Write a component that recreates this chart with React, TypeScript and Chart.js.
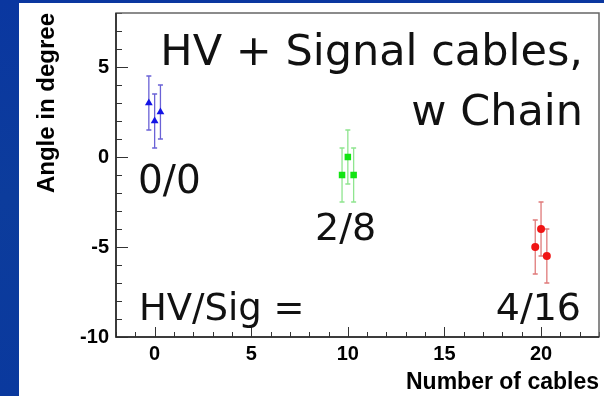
import { useEffect, useRef } from "react";
import { Chart, registerables } from "chart.js";

Chart.register(...registerables);

// ---- data ----
const xTickValues = [0, 5, 10, 15, 20];
const yTickValues = [-10, -5, 0, 5];

const blueX = [-0.3, 0, 0.3];
const blueY = [3, 2, 2.5];
const blueErr = [1.5, 1.5, 1.5];

const greenX = [9.7, 10, 10.3];
const greenY = [-1, 0, -1];
const greenErr = [1.5, 1.5, 1.5];

const redX = [19.7, 20, 20.3];
const redY = [-5, -4, -5.5];
const redErr = [1.5, 1.5, 1.5];

const noteTexts = ["HV + Signal cables,", "w Chain", "0/0", "2/8", "HV/Sig =", "4/16"];
const noteX = [22.17, 22.17, -0.86, 8.3, -0.81, 22.07];
const noteY = [5.11, 1.78, -2.0, -4.61, -9.06, -9.06];
const noteAlign = ["right", "right", "left", "left", "left", "right"];
const noteSize = [43, 43, 39, 38, 37, 38];

const TICK_FONT = "'Liberation Sans', Arial, sans-serif";
const NOTE_FONT = "'DejaVu Sans', sans-serif";

const pts = (xs: number[], ys: number[]) => xs.map((x, i) => ({ x, y: ys[i] }));

const backgroundPlugin = {
  id: "bg",
  beforeDraw(chart: any) {
    const { ctx, width, height } = chart;
    ctx.save();
    const g = ctx.createLinearGradient(0, 0, 0, height);
    g.addColorStop(0, "#0a37a0");
    g.addColorStop(0.5, "#0c3c9c");
    g.addColorStop(1, "#0a399e");
    ctx.fillStyle = g;
    ctx.fillRect(0, 0, width, height);
    ctx.fillStyle = "#ffffff";
    ctx.fillRect(19, 3, width - 19, height - 3);
    ctx.restore();
  },
};

const errorBarPlugin = {
  id: "errbars",
  beforeDatasetsDraw(chart: any) {
    const { ctx } = chart;
    const ys = chart.scales.y;
    chart.data.datasets.forEach((ds: any, di: number) => {
      const meta = chart.getDatasetMeta(di);
      ctx.save();
      ctx.strokeStyle = ds.errorColor;
      ctx.lineWidth = 1.3;
      meta.data.forEach((el: any, i: number) => {
        const v = ds.data[i].y;
        const e = ds.errorBars[i];
        const px = el.x;
        const top = ys.getPixelForValue(v + e);
        const bot = ys.getPixelForValue(v - e);
        ctx.beginPath();
        ctx.moveTo(px, top);
        ctx.lineTo(px, bot);
        ctx.moveTo(px - 2.5, top);
        ctx.lineTo(px + 2.5, top);
        ctx.moveTo(px - 2.5, bot);
        ctx.lineTo(px + 2.5, bot);
        ctx.stroke();
      });
      ctx.restore();
    });
  },
};

const framePlugin = {
  id: "frame",
  afterDatasetsDraw(chart: any) {
    const { ctx, chartArea: a } = chart;
    const xs = chart.scales.x;
    const ys = chart.scales.y;
    ctx.save();
    ctx.strokeStyle = "#333";
    ctx.lineWidth = 1;
    ctx.beginPath();
    for (let v = Math.ceil(ys.min); v <= ys.max; v++) {
      const py = Math.round(ys.getPixelForValue(v)) + 0.5;
      const len = v % 5 === 0 ? 12 : 6;
      ctx.moveTo(a.left, py);
      ctx.lineTo(a.left + len, py);
    }
    for (let v = Math.ceil(xs.min); v <= xs.max; v++) {
      const px = Math.round(xs.getPixelForValue(v)) + 0.5;
      const len = v % 5 === 0 ? 10 : 5;
      ctx.moveTo(px, a.bottom);
      ctx.lineTo(px, a.bottom - len);
    }
    ctx.stroke();
    ctx.strokeStyle = "#666";
    ctx.lineWidth = 1.5;
    ctx.strokeRect(a.left, a.top, a.right - a.left, a.bottom - a.top);
    ctx.strokeStyle = "#222";
    ctx.beginPath();
    ctx.moveTo(a.left, a.top);
    ctx.lineTo(a.left, a.bottom);
    ctx.lineTo(a.right, a.bottom);
    ctx.stroke();
    ctx.restore();
  },
  afterDraw(chart: any) {
    const { ctx } = chart;
    const xs = chart.scales.x;
    const ys = chart.scales.y;
    ctx.save();
    ctx.fillStyle = "#111";
    ctx.textBaseline = "alphabetic";
    noteTexts.forEach((t, i) => {
      ctx.font = `${noteSize[i]}px ${NOTE_FONT}`;
      ctx.textAlign = noteAlign[i] as CanvasTextAlign;
      ctx.fillText(t, xs.getPixelForValue(noteX[i]), ys.getPixelForValue(noteY[i]));
    });
    ctx.restore();
  },
};

export default function App() {
  const ref = useRef<HTMLCanvasElement>(null);
  useEffect(() => {
    if (!ref.current) return;
    const chart = new Chart(ref.current, {
      type: "scatter",
      data: {
        datasets: [
          {
            label: "0/0",
            data: pts(blueX, blueY),
            errorBars: blueErr,
            errorColor: "#6a62d6",
            pointStyle: "triangle",
            pointRadius: 4.5,
            backgroundColor: "#1414e6",
            borderColor: "#1414e6",
            borderWidth: 0,
          } as any,
          {
            label: "2/8",
            data: pts(greenX, greenY),
            errorBars: greenErr,
            errorColor: "#8fe58f",
            pointStyle: "rect",
            pointRadius: 4.6,
            backgroundColor: "#12e412",
            borderColor: "#12e412",
            borderWidth: 0,
          } as any,
          {
            label: "4/16",
            data: pts(redX, redY),
            errorBars: redErr,
            errorColor: "#e07a7a",
            pointStyle: "circle",
            pointRadius: 4,
            backgroundColor: "#f01414",
            borderColor: "#f01414",
            borderWidth: 0,
          } as any,
        ],
      },
      options: {
        animation: false,
        responsive: false,
        events: [],
        layout: { padding: { left: 0, right: 5, top: 13, bottom: 0 } },
        plugins: { legend: { display: false }, tooltip: { enabled: false } },
        scales: {
          x: {
            type: "linear",
            min: -2,
            max: 23,
            afterBuildTicks: (s: any) => {
              s.ticks = xTickValues.map((v) => ({ value: v }));
            },
            afterFit: (s: any) => {
              s.height = 59;
              s.paddingLeft = 0;
              s.paddingRight = 0;
            },
            grid: { display: false, drawTicks: false },
            border: { display: false },
            ticks: {
              color: "#000",
              padding: 5,
              maxRotation: 0,
              autoSkip: false,
              font: { family: TICK_FONT, size: 20, weight: "bold" },
            },
            title: {
              display: true,
              text: "Number of cables",
              align: "end",
              color: "#000",
              padding: { top: 0, bottom: 0 },
              font: { family: TICK_FONT, size: 23, weight: "bold" },
            },
          },
          y: {
            type: "linear",
            min: -10,
            max: 8,
            afterBuildTicks: (s: any) => {
              s.ticks = yTickValues.map((v) => ({ value: v }));
            },
            afterFit: (s: any) => {
              s.width = 116;
              s.paddingTop = 0;
              s.paddingBottom = 0;
            },
            grid: { display: false, drawTicks: false },
            border: { display: false },
            ticks: {
              color: "#000",
              padding: 7,
              autoSkip: false,
              font: { family: TICK_FONT, size: 20, weight: "bold" },
            },
            title: {
              display: true,
              text: "Angle in degree",
              align: "end",
              color: "#000",
              padding: { top: 33, bottom: 0 },
              font: { family: TICK_FONT, size: 24, weight: "bold" },
            },
          },
        },
      } as any,
      plugins: [backgroundPlugin, errorBarPlugin, framePlugin],
    });
    return () => chart.destroy();
  }, []);
  return (
    <div style={{ position: "absolute", left: 0, top: 0, width: 604, height: 396 }}>
      <canvas ref={ref} width={604} height={396} style={{ display: "block" }} />
    </div>
  );
}
